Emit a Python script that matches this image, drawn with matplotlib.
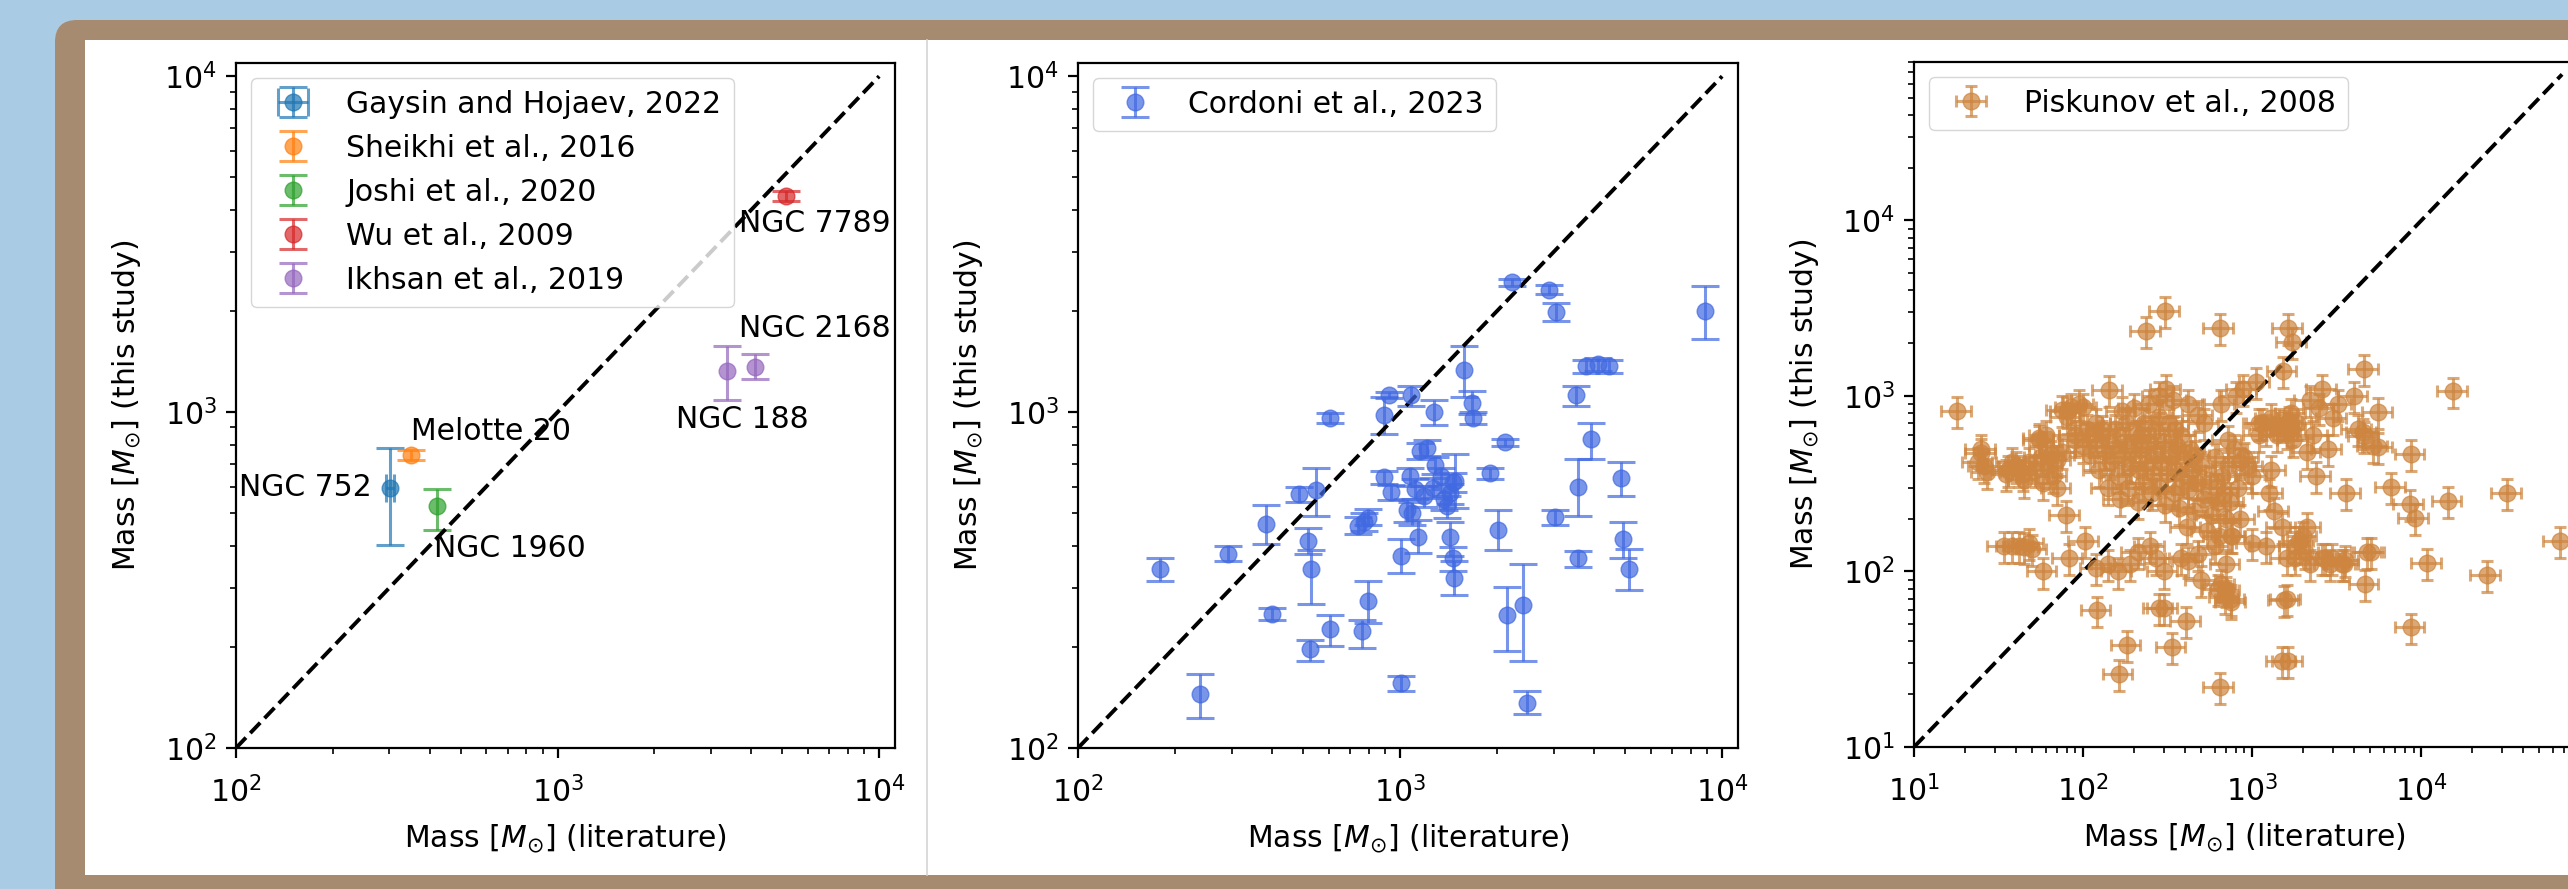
import matplotlib
matplotlib.use("Agg")
import matplotlib.pyplot as plt
import matplotlib.transforms as mtransforms
from matplotlib.patches import FancyBboxPatch, Rectangle
from matplotlib.lines import Line2D

# ---- panel 1: individual literature studies ----
lit_names = ["Gaysin and Hojaev, 2022", "Sheikhi et al., 2016", "Joshi et al., 2020",
             "Wu et al., 2009", "Ikhsan et al., 2019"]
lit_colors = ["tab:blue", "tab:orange", "tab:green", "tab:red", "tab:purple"]
lit_x = [[301], [351], [422], [5140], [3365, 4098]]
lit_y = [[595], [746], [524], [4395], [1330, 1361]]
lit_ylo = [[194], [25], [78], [150], [246, 105]]
lit_yhi = [[187], [25], [67], [150], [240, 128]]
lit_xerr = [[8], None, None, None, None]

cluster_names = ["NGC 752", "Melotte 20", "NGC 1960", "NGC 7789", "NGC 188", "NGC 2168"]
cluster_x = [301, 351, 422, 5140, 3365, 4098]
cluster_y = [595, 746, 524, 4395, 1330, 1361]
label_off = [(-13, 0), (0, 17), (-2, -30), (-34, -20), (11, -35), (-11, 28)]
label_ha = ["right", "left", "left", "left", "center", "left"]

# ---- panel 2: Cordoni et al. 2023 ----
cor_x = [180, 240, 292, 384, 400, 485, 548, 516, 528, 526, 608, 608, 764, 796, 740, 771, 796,
         890, 927, 1083, 890, 939, 1006, 1006, 1276, 1138, 1152, 1210, 1287, 1341, 1426, 1070,
         1115, 1048, 1092, 1185, 1368, 1397, 1426, 1455, 1473, 1486, 1580, 1667, 1680, 1900,
         2123, 2021, 2149, 2410, 2480, 2220, 2898, 3044, 8843, 3785, 4107, 4458, 3515, 3926,
         4840, 3558, 3020, 4920, 5124, 3558, 1261, 1455]
cor_y = [342, 145, 378, 463, 251, 569, 585, 412, 342, 197, 226, 960, 223, 274, 458, 472, 485,
         979, 1121, 1121, 639, 578, 374, 156, 998, 424, 767, 782, 696, 644, 573, 644,
         591, 510, 500, 562, 551, 524, 424, 367, 320, 624, 1335, 1066, 960, 657,
         813, 445, 249, 266, 136, 2437, 2317, 1983, 1999, 1372, 1388, 1372, 1121, 829,
         637, 600, 487, 420, 342, 367, 596, 620]
cor_lo = [28, 22, 18, 59, 10, 30, 94, 35, 73, 15, 25, 30, 24, 39, 25, 30, 25,
          118, 20, 75, 30, 30, 41, 8, 85, 43, 40, 40, 40, 40, 40, 40,
          40, 40, 40, 40, 40, 40, 50, 30, 35, 104, 226, 80, 40, 25,
          20, 56, 55, 84, 10, 60, 70, 110, 353, 60, 60, 60, 75, 105,
          75, 109, 25, 53, 46, 20, 40, 40]
cor_hi = [25, 21, 21, 67, 10, 31, 97, 40, 47, 12, 23, 34, 18, 40, 28, 30, 30,
          130, 25, 77, 30, 30, 46, 8, 89, 52, 40, 45, 40, 40, 40, 40,
          40, 40, 40, 40, 40, 40, 48, 30, 40, 128, 237, 86, 40, 25,
          20, 65, 53, 87, 12, 60, 80, 130, 382, 60, 60, 60, 77, 101,
          73, 124, 25, 52, 50, 20, 40, 40]

# ---- panel 3: Piskunov et al. 2008 ----
pis_x = [18, 25, 27, 24, 34, 38, 42, 45, 50, 58, 48, 79, 82, 102, 121, 142, 182, 163, 236, 306,
         281, 336, 408, 641, 641, 631, 690, 753, 1631, 1726, 1520, 1631, 1552, 4613, 5577, 5577,
         4613, 6649, 8684, 9120, 8534, 8684, 10870, 14400, 15450, 24380, 32300, 66000, 5018, 4640,
         3532, 2964,
         36, 40, 44, 48, 52, 56, 60, 55, 62, 66, 70, 45, 58, 75, 85, 95, 80, 90, 100, 105,
         110, 115, 120, 125, 130, 135, 140, 145, 150, 155, 160, 165, 170, 175, 180, 185, 190, 195,
         200, 205, 210, 215, 220, 225, 230, 240, 245, 250, 255, 260, 265, 270, 280, 285, 290, 300,
         305, 310, 315, 320, 330, 340, 345, 350, 360, 370, 380, 390, 400, 410, 420, 430, 440, 450,
         460, 470, 480, 500, 520, 540, 560, 580, 600, 620, 640, 650, 660, 680, 700, 720, 740, 760,
         780, 800, 820, 850, 880, 900, 950, 1000, 1050, 1100, 1150, 1200, 1250, 1300, 1350, 1400,
         1450, 1500, 1550, 1600, 1650, 1700, 1750, 1800, 1850, 1900, 2000, 2050, 2100, 2200, 2300,
         2400, 2500, 2600, 2700, 2800, 3000, 3200, 3400, 3600, 4000, 4200, 4500, 4800, 5200,
         120, 140, 160, 190, 210, 250, 270, 300, 380, 420, 480, 600, 700, 750, 1000, 1200, 1600,
         1800, 2200, 2600, 2900, 3500, 300, 500, 650, 700, 750, 1600, 1500,
         25, 26, 55, 60, 38, 35, 42, 65, 70, 75, 80, 90, 100,
         130, 170, 220, 280, 350, 420, 520, 620, 720, 850, 1100, 1300, 1700, 2100]
pis_y = [818, 475, 367, 420, 140, 140, 140, 138, 135, 100, 145, 210, 120, 150, 60, 1077, 38, 26, 2350, 3048,
         62, 37, 52, 2438, 22, 80, 72, 67, 2438, 2025, 1397, 31, 69, 1428, 812, 512,
         594, 305, 469, 203, 244, 48, 112, 253, 1061, 96, 279, 150, 130, 85,
         116, 120,
         380, 400, 360, 420, 380, 450, 520, 560, 400, 350, 430, 330, 320, 830, 860, 900, 760, 600, 520, 650,
         460, 560, 700, 380, 600, 480, 300, 420, 520, 650, 350, 260, 450, 550, 700, 300, 400, 480,
         850, 600, 250, 380, 500, 320, 700, 420, 900, 550, 280, 360, 640, 480, 1000, 300, 420, 550,
         240, 1100, 360, 700, 450, 950, 280, 380, 520, 230, 600, 330, 440, 180, 290, 500, 380, 220,
         460, 320, 780, 400, 260, 170, 330, 210, 450, 250, 160, 900, 350, 280, 200, 400, 250, 160,
         500, 1000, 300, 200, 1100, 450, 400, 350, 1200, 600, 700, 650, 280, 750, 220, 600,
         700, 180, 680, 620, 720, 650, 560, 120, 700, 150, 160, 130, 180, 950, 600,
         350, 850, 1100, 120, 500, 750, 900, 110, 280, 1000, 650, 620, 130, 520,
         105, 110, 100, 110, 130, 140, 120, 100, 120, 115, 125, 140, 110, 160, 145, 140, 120,
         140, 110, 120, 110, 110, 62, 90, 85, 78, 70, 70, 31,
         500, 400, 580, 600, 420, 360, 380, 460, 300, 480, 820, 560, 860,
         640, 820, 600, 760, 640, 900, 700, 300, 560, 420, 700, 380, 800, 480]
pis_err = 0.2  # typical relative error bar of the Piskunov points

diag_lo = [100, 100, 10]
diag_hi = [1e4, 1e4, 6.8e4]
xlims = [(100, 1.12e4), (100, 1.12e4), (10, 8e4)]
ylims = [(100, 1.095e4), (100, 1.095e4), (10, 8e4)]

W, H = 2568, 889
plt.rcParams.update({
    "font.size": 21.5,
    "axes.linewidth": 1.6,
    "xtick.major.size": 7, "ytick.major.size": 7,
    "xtick.minor.size": 4, "ytick.minor.size": 4,
    "xtick.major.width": 1.6, "ytick.major.width": 1.6,
    "xtick.minor.width": 1.2, "ytick.minor.width": 1.2,
    "xtick.major.pad": 13, "ytick.major.pad": 7,
    "xtick.minor.pad": 13,
    "legend.borderpad": 0.4,
})

fig = plt.figure(figsize=(W / 100, H / 100), dpi=100, facecolor="#a9cbe4")
px = mtransforms.Affine2D().scale(1 / fig.dpi) + fig.dpi_scale_trans

# brown frame and white sheet behind the panels
fig.patches.append(FancyBboxPatch((55, -60), 2700, 889 - 20 + 60,
                                  boxstyle="round,pad=0,rounding_size=22",
                                  transform=px, fc="#a68b71", ec="none", zorder=-10))
fig.patches.append(Rectangle((85, 14), 2700, 835, transform=px, fc="white", ec="none", zorder=-9))
fig.lines.append(Line2D([927, 927], [14, 849], transform=px, color="#d4d4d4", lw=1.2))

ax1 = fig.add_axes([236 / W, 141 / H, 659 / W, 685 / H])
ax2 = fig.add_axes([1078 / W, 141 / H, 660 / W, 685 / H])
ax3 = fig.add_axes([1914 / W, 142 / H, 660 / W, 685 / H])
axes = [ax1, ax2, ax3]

eb = dict(fmt="o", ms=12, alpha=0.7, elinewidth=2.2, capthick=2.2)

for name, c, x, y, lo, hi, xe in zip(lit_names, lit_colors, lit_x, lit_y, lit_ylo, lit_yhi, lit_xerr):
    ax1.errorbar(x, y, yerr=[lo, hi], xerr=xe, color=c, capsize=10, label=name, **eb)

for name, x, y, (dx, dy), ha in zip(cluster_names, cluster_x, cluster_y, label_off, label_ha):
    ax1.annotate(name, (x, y), xytext=(dx, dy), textcoords="offset points",
                 ha=ha, va="center")

ax2.errorbar(cor_x, cor_y, yerr=[cor_lo, cor_hi], color="royalblue", capsize=10,
             label="Cordoni et al., 2023", **eb)

ax3.errorbar(pis_x, pis_y, xerr=[v * pis_err for v in pis_x], yerr=[v * pis_err for v in pis_y],
             color="peru", capsize=4, label="Piskunov et al., 2008", **eb)

for i, ax in enumerate(axes):
    ax.plot([diag_lo[i], diag_hi[i]], [diag_lo[i], diag_hi[i]], "k--", lw=2.8)
    ax.set_xscale("log")
    ax.set_yscale("log")
    ax.set_xlim(*xlims[i])
    ax.set_ylim(*ylims[i])
    ax.set_xlabel(r"Mass [$M_{\odot}$] (literature)", labelpad=10)
    ax.set_ylabel(r"Mass [$M_{\odot}$] (this study)", labelpad=15)
    ax.legend(loc="upper left")

fig.savefig("out.png", dpi=100, facecolor=fig.get_facecolor())
